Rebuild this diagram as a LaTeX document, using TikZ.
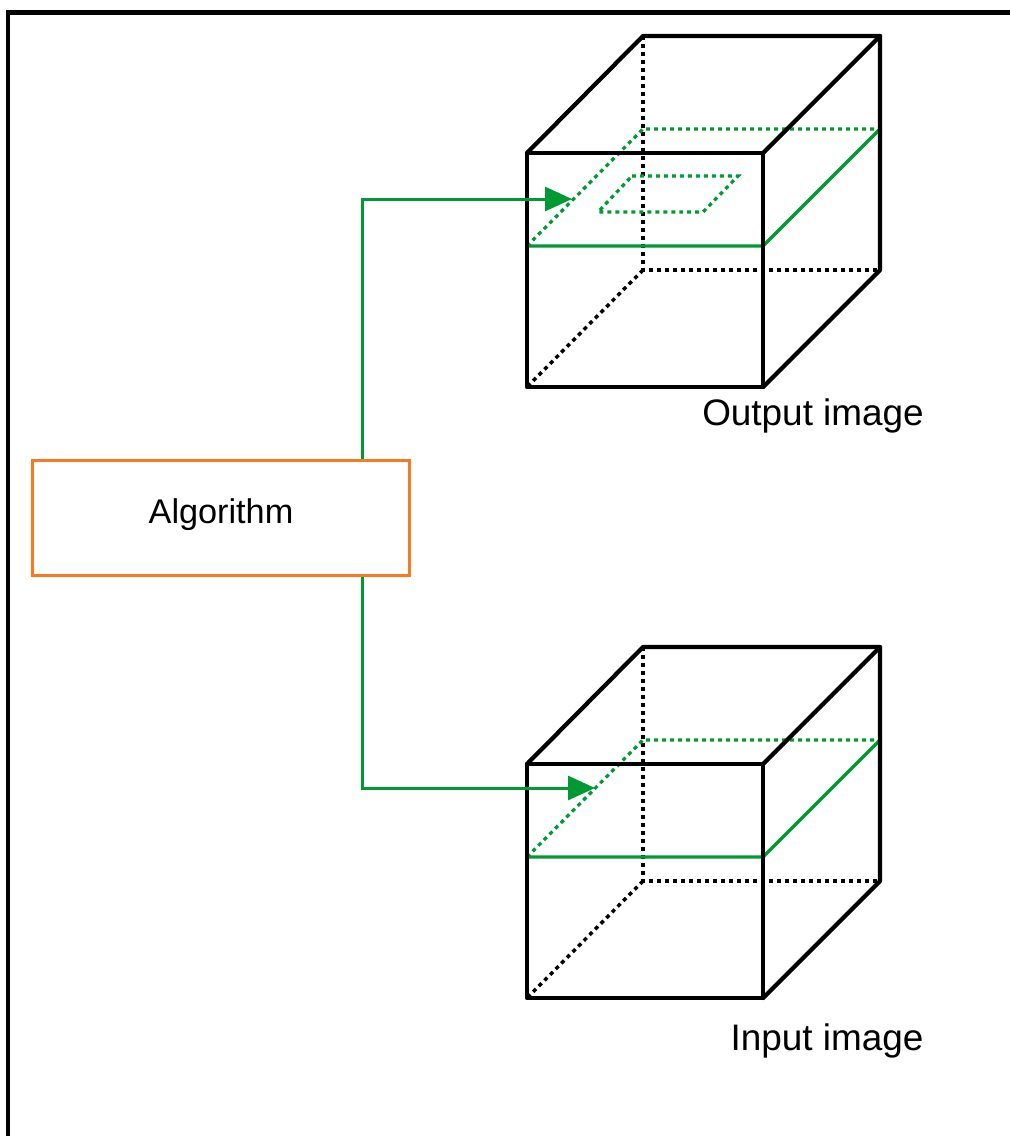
\documentclass[tikz,border=0pt]{standalone}
\usepackage{fontspec}
\setmainfont{Liberation Sans}
\usetikzlibrary{arrows.meta}
\definecolor{imggreen}{RGB}{0,153,51}
\definecolor{algoorange}{RGB}{250,120,30}

\begin{document}
\begin{tikzpicture}[x=0.02cm,y=-0.02cm,
  edge/.style={line width=0.085cm,line cap=round,line join=round},
  hidden/.style={line width=0.07cm,dash pattern=on 0.08cm off 0.08cm},
  plane/.style={imggreen,line width=0.065cm},
  flow/.style={imggreen,line width=0.06cm,-{Triangle[length=0.54cm,width=0.48cm]}}]
\useasboundingbox (0,0) rectangle (1009,1136);
\draw[line width=0.1cm] (8,12) rectangle (1100,1250);

% the two image cubes
\foreach \yo in {0,611}{
\begin{scope}[shift={(0,\yo)}]
\draw[hidden] (643,36) -- (643,270) -- (880,270);
\draw[hidden] (643,270) -- (527,387);
\draw[plane,dash pattern=on 0.08cm off 0.08cm] (527,246) -- (643,129) -- (880,129);
\draw[plane] (527,246) -- (763,246) -- (880,129);
\draw[edge] (527,153) rectangle (763,387);
\draw[edge] (527,153) -- (643,36) -- (880,36) -- (880,270) -- (763,387);
\draw[edge] (880,36) -- (763,153);
\end{scope}
}
\draw[plane,dash pattern=on 0.08cm off 0.08cm] (632,176) -- (738,176) -- (703,212) -- (598,212) -- cycle;

\node[draw=algoorange,line width=0.06cm,minimum width=7.54cm,minimum height=2.32cm,font=\fontsize{19.5}{23}\selectfont] (algo) at (221,518) {\raisebox{0.28cm}{Algorithm}};
\node[font=\fontsize{21}{25}\selectfont] (outlbl) at (813,416) {Output image};
\node[font=\fontsize{21}{25}\selectfont] (inlbl) at (827,1041) {Input image};

\coordinate (outtip) at (572,199);
\coordinate (intip) at (595,788);
\draw[flow] ([xshift=-0.96cm]algo.north east) |- (outtip);
\draw[flow] ([xshift=-0.96cm]algo.south east) |- (intip);

\end{tikzpicture}
\end{document}
